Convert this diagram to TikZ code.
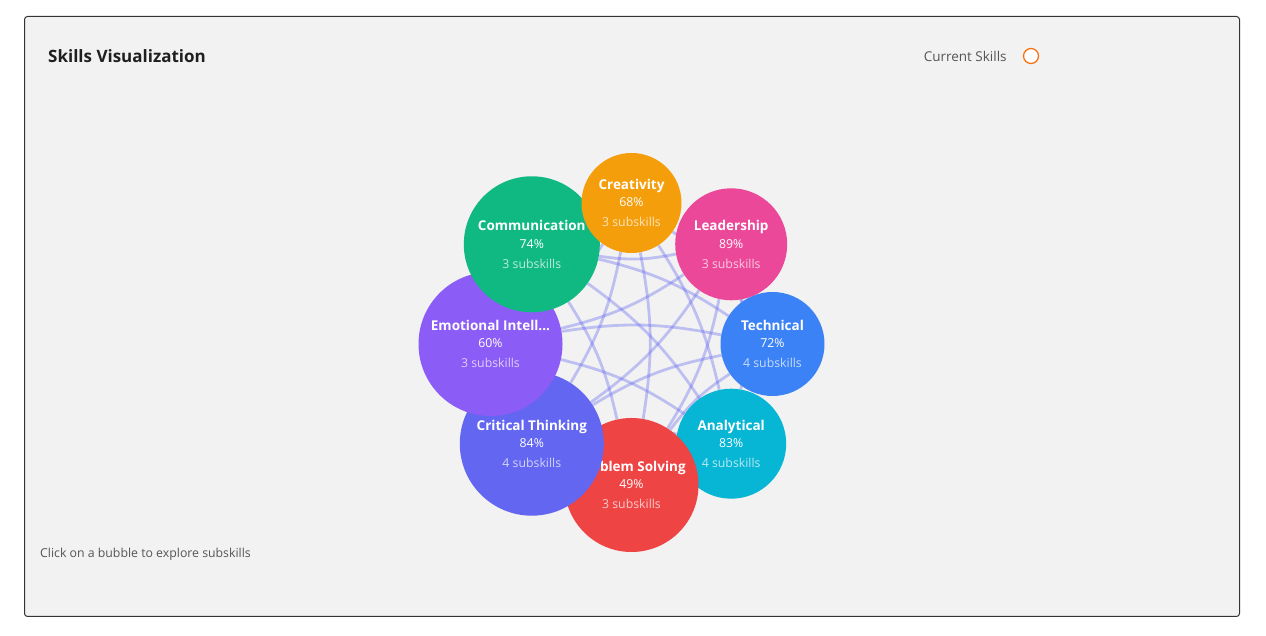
\documentclass[tikz,border=0pt]{standalone}
\usepackage{fontspec}
\setmainfont{Open Sans}
\usepackage{xcolor}
\usetikzlibrary{positioning}
\definecolor{techcol}{HTML}{3B82F6}
\definecolor{analcol}{HTML}{06B6D4}
\definecolor{probcol}{HTML}{EF4444}
\definecolor{critcol}{HTML}{6366F1}
\definecolor{emotcol}{HTML}{8B5CF6}
\definecolor{commcol}{HTML}{10B981}
\definecolor{creacol}{HTML}{F59E0B}
\definecolor{leadcol}{HTML}{EC4899}
\definecolor{linkcol}{HTML}{6366F1}
\definecolor{panelbg}{HTML}{F2F2F2}
\definecolor{framecol}{HTML}{333333}
\definecolor{dotcol}{HTML}{F97316}
\definecolor{mutedtext}{HTML}{555555}
\definecolor{titletext}{HTML}{1F1F1F}
\pgfdeclarelayer{panel}
\pgfdeclarelayer{links}
\pgfsetlayers{panel,links,main}
\newcommand{\skilltext}[4]{{\fontsize{13.5}{17}\selectfont\bfseries #1}\\[-2.5pt]#2\%\\{\color{white!72!#4}#3 subskills}}
\tikzset{
    bubble/.style={circle, inner sep=0pt, text=white, align=center, font=\fontsize{12.3}{20}\selectfont},
    link/.style={draw=linkcol, draw opacity=0.36, line width=2.8pt, bend right=10}
}

\begin{document}
\begin{tikzpicture}[x=1pt, y=1pt]
    \useasboundingbox (0,0) rectangle (1266,636);
    \begin{pgfonlayer}{panel}
        \fill[white] (0,0) rectangle (1266,636);
        \draw[framecol, fill=panelbg, line width=1pt, rounded corners=3pt] (24.5,19.5) rectangle (1239.5,619.5);
    \end{pgfonlayer}
    \node[anchor=west, inner sep=0pt, text=titletext, font=\fontsize{17}{20}\selectfont\bfseries] (title) at (48,580) {Skills Visualization};
    \node[circle, draw=dotcol, fill=white, line width=1.3pt, minimum size=15pt, inner sep=0pt] (legdot) at (1031,580) {};
    \node[left=16pt of legdot, inner sep=0pt, text=mutedtext, font=\fontsize{13.5}{16}\selectfont] (legtext) {Current Skills};
    \node[anchor=west, inner sep=0pt, text=mutedtext, font=\fontsize{12.3}{14}\selectfont] (hint) at (40,82) {Click on a bubble to explore subskills};

    \node[bubble, minimum size=104pt, fill=techcol] (tech) at (772.5,292) {\skilltext{Technical}{72}{4}{techcol}};
    \node[bubble, minimum size=110pt, fill=analcol] (anal) at (731.2,192.3) {\skilltext{Analytical}{83}{4}{analcol}};
    \node[bubble, minimum size=134pt, fill=probcol] (prob) at (631.5,151) {\skilltext{Problem Solving}{49}{3}{probcol}};
    \node[bubble, minimum size=144pt, fill=critcol] (crit) at (531.8,192.3) {\skilltext{Critical Thinking}{84}{4}{critcol}};
    \node[bubble, minimum size=144pt, fill=emotcol] (emot) at (490.5,292) {\skilltext{Emotional Intell...}{60}{3}{emotcol}};
    \node[bubble, minimum size=136pt, fill=commcol] (comm) at (531.8,391.7) {\skilltext{Communication}{74}{3}{commcol}};
    \node[bubble, minimum size=100pt, fill=creacol] (crea) at (631.5,433) {\skilltext{Creativity}{68}{3}{creacol}};
    \node[bubble, minimum size=112pt, fill=leadcol] (lead) at (731.2,391.7) {\skilltext{Leadership}{89}{3}{leadcol}};

    \begin{pgfonlayer}{links}
        \draw[link] (tech) to (prob); \draw[link] (tech) to (crit); \draw[link] (tech) to (emot); \draw[link] (tech) to (comm); \draw[link] (tech) to (crea);
        \draw[link] (anal) to (crit); \draw[link] (anal) to (emot); \draw[link] (anal) to (comm); \draw[link] (anal) to (crea); \draw[link] (anal) to (lead);
        \draw[link] (prob) to (emot); \draw[link] (prob) to (comm); \draw[link] (prob) to (crea); \draw[link] (prob) to (lead);
        \draw[link] (crit) to (comm); \draw[link] (crit) to (crea); \draw[link] (crit) to (lead);
        \draw[link] (emot) to (crea); \draw[link] (emot) to (lead);
        \draw[link] (comm) to (lead);
    \end{pgfonlayer}
\end{tikzpicture}
\end{document}
